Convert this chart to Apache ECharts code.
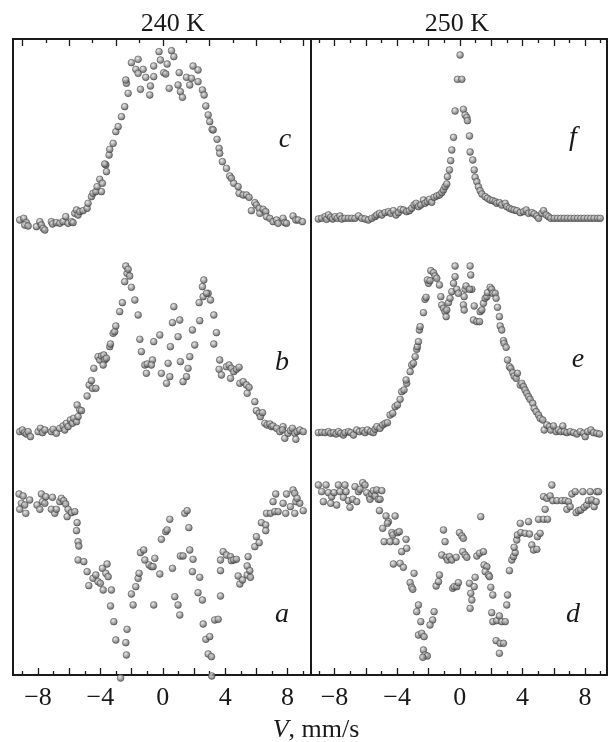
<!DOCTYPE html>
<html><head><meta charset="utf-8">
<script src="https://cdn.jsdelivr.net/npm/echarts@6/dist/echarts.min.js"></script>
<style>html,body{margin:0;padding:0;background:#fff}#chart{width:610px;height:742px}</style>
</head><body><div id="chart"></div>
<script>
// ---- data ----
const panelTitles = ['240 K', '250 K'];
const axisTitleItalic = 'V';
const axisTitleRest = ', mm/s';
const xTickLabels = [-8, -4, 0, 4, 8];
const letters240 = ['c', 'b', 'a'];
const letters250 = ['f', 'e', 'd'];

// 240 K, spectrum c  [velocity mm/s, relative intensity]
const specC = [[-9.17,2],[-8.91,3],[-8.74,0.4],[-8.85,-1],[-8.63,-1.6],[-8.10,-2],[-7.88,1],[-7.78,-1],[-7.67,-3],[-7.56,-4],[-7.14,1],[-7.07,-0.4],[-6.82,0.4],[-6.60,0],[-6.39,1],[-6.22,4],[-6.07,0],[-5.85,1],[-5.75,0.4],[-5.64,6],[-5.53,8],[-5.43,5],[-5.32,7],[-5.11,7.6],[-4.85,9],[-4.79,12],[-4.57,16],[-4.47,18],[-4.29,19],[-4.21,22],[-4.04,26.4],[-3.87,24],[-3.93,19],[-3.65,35],[-3.61,31],[-3.72,35.6],[-3.44,41],[-3.40,44.4],[-3.18,48],[-3.01,55],[-2.86,58],[-2.65,64],[-2.44,70],[-2.22,78],[-2.33,84],[-2.37,86],[-2.01,96.4],[-1.58,98.4],[-1.73,92.4],[-1.58,90],[-1.26,92.4],[-1.43,80.4],[-1.09,87.6],[-0.83,77],[-0.79,82.4],[-0.58,94.4],[-0.58,88],[-0.24,103],[-0.15,98],[0.06,90.4],[0.19,89.6],[0.28,95.6],[0.41,81],[0.56,103.6],[0.71,100],[1.05,90.4],[0.98,83],[1.13,79],[1.26,75.6],[1.52,87.6],[1.73,83],[1.84,87],[1.94,94.4],[2.26,92],[2.26,85],[2.54,80],[2.65,77],[2.76,70.4],[2.91,65],[3.01,61],[3.16,56.4],[3.23,56],[3.48,50.4],[3.61,45],[3.65,42],[3.82,37],[4.08,33],[4.29,28.4],[4.40,27],[4.55,24],[4.83,22],[4.89,18],[5.15,17],[5.36,17],[5.53,15.6],[5.68,7.6],[5.90,12.4],[6.00,11],[6.18,9],[6.22,6],[6.43,8.4],[6.60,7],[6.65,4],[6.86,3],[7.07,1],[7.29,2],[7.39,0],[7.71,3],[7.82,0.4],[7.93,0],[8.35,4.4],[8.53,2],[8.68,2],[8.95,1]];

// 240 K, spectrum b
const specB = [[-9.17,0],[-9.00,1],[-8.85,-0.6],[-8.74,-1.4],[-8.63,0],[-8.48,-3],[-7.99,0],[-7.84,2],[-7.71,-0.6],[-7.56,1],[-7.14,0],[-7.03,1.4],[-6.82,-1],[-6.60,2],[-6.39,3.4],[-6.28,1],[-6.18,5],[-6.07,3],[-5.92,7],[-5.79,5],[-5.71,8],[-5.53,6],[-5.43,9],[-5.49,16],[-5.32,13],[-5.21,12.6],[-4.85,21.4],[-4.72,28],[-4.57,30.6],[-4.51,26],[-4.29,26],[-4.42,38],[-4.15,45],[-4.04,43],[-3.93,45.4],[-3.78,46],[-3.72,43],[-3.61,44],[-3.82,40],[-3.40,51],[-3.35,52.6],[-3.18,59],[-3.08,60],[-3.01,63.4],[-2.76,72],[-2.59,77.4],[-2.44,90],[-2.29,95],[-2.12,93.4],[-2.37,99.4],[-2.22,97.4],[-2.01,86.6],[-1.79,79],[-1.58,70],[-1.47,55.4],[-1.37,48],[-1.15,40],[-1.00,40.6],[-1.05,35],[-0.66,43],[-0.73,40],[-0.58,54],[-0.19,58],[-0.09,35],[0.24,29],[0.34,41],[0.45,33],[0.49,51],[0.62,65.4],[0.71,75],[0.98,57],[1.09,67],[1.13,42],[1.30,30],[1.52,33],[1.62,38],[1.73,45],[1.90,61],[2.05,52],[2.37,66.6],[2.33,77.4],[2.54,87],[2.63,91],[2.59,81],[2.91,83],[3.06,79],[2.80,83],[3.27,70],[3.44,59.4],[3.27,52.6],[3.65,43],[3.61,37.4],[3.76,34],[4.08,39],[4.25,40],[4.40,38],[4.55,36],[4.72,37.4],[4.89,38.6],[4.34,32],[4.94,29],[5.15,30],[5.36,28],[5.53,26.6],[5.41,23],[5.90,18],[6.00,12.6],[6.18,11],[6.26,9],[6.39,11.4],[6.54,5],[6.69,4],[6.86,4.6],[6.97,3],[7.07,3.4],[7.29,2],[7.50,0],[7.71,3],[7.67,1],[7.82,-4],[8.03,-1],[8.18,0.6],[8.31,2],[8.46,-1],[8.53,-4.6],[8.61,0],[8.78,1],[9.00,0]];

// 240 K, spectrum a
const specA = [[-9.21,5.6],[-8.95,4.4],[-9.06,0],[-8.85,-1],[-9.17,-3.6],[-8.78,-6],[-8.53,2],[-8.06,-1],[-7.78,5.6],[-7.88,-3.6],[-7.71,1],[-7.56,0],[-7.50,4],[-7.07,3.6],[-7.14,-3.6],[-6.92,-6],[-6.82,-3.6],[-6.60,1],[-6.50,3],[-6.35,1.6],[-6.22,-0.4],[-6.07,-3.6],[-6.13,-8],[-5.85,-5.6],[-5.64,-5],[-5.49,-11.6],[-5.53,-16.4],[-5.43,-23],[-5.38,-25.6],[-5.43,-34],[-5.06,-35],[-4.85,-41],[-4.74,-49.4],[-4.47,-45],[-4.29,-43],[-4.15,-47],[-4.00,-48],[-3.82,-52],[-3.87,-39],[-3.65,-42],[-3.57,-36.4],[-3.50,-44],[-3.29,-52],[-3.35,-61.6],[-3.14,-71],[-3.01,-82],[-2.70,-104.8],[-2.37,-83.6],[-2.33,-91],[-2.29,-75.6],[-2.01,-54.4],[-1.90,-61],[-1.73,-50],[-1.58,-45],[-1.52,-42],[-1.43,-29.6],[-1.22,-28],[-1.15,-34],[-0.88,-37],[-0.73,-38],[-0.62,-38],[-0.51,-33],[-0.58,-61],[-0.19,-42.4],[-0.09,-21.6],[0.19,-17],[0.28,-16],[0.45,-9.6],[0.62,-39],[0.77,-56],[0.98,-61],[1.09,-67],[1.13,-31.6],[1.30,-31.6],[1.41,-6],[1.56,-4.4],[1.67,-14.6],[1.73,-28],[1.90,-41],[1.94,-33.6],[2.26,-53.6],[2.37,-44.4],[2.54,-58],[2.59,-72.4],[2.76,-81.6],[3.01,-80],[2.91,-90.4],[3.12,-92],[3.14,-103.6],[3.33,-70],[3.55,-69.6],[3.70,-55.6],[3.70,-40.4],[3.70,-34],[3.87,-29],[4.08,-31],[4.34,-32],[4.40,-34.4],[4.55,-34],[4.72,-33.6],[4.83,-43.6],[4.94,-48.4],[5.11,-46],[5.41,-37.6],[5.47,-32],[5.41,-43],[5.58,-40.4],[5.62,-44.4],[5.90,-26],[6.00,-20],[6.18,-23.6],[6.32,-11.6],[6.60,-13],[6.60,-16.4],[6.65,-6],[6.90,-6],[7.07,1],[7.24,5.6],[7.18,-5],[7.39,-5],[7.71,0],[7.88,-6],[7.93,5.6],[8.18,-2],[8.35,8],[8.46,6],[8.53,1],[8.46,-6],[8.78,0],[9.00,-4.4],[8.61,3]];

// 250 K, spectrum f
const specF = [[-9.03,-0.4],[-8.82,0],[-8.60,1],[-8.50,-0.6],[-8.39,2],[-8.24,0.6],[-8.12,-0.4],[-7.97,1],[-7.82,0],[-7.65,1.4],[-7.54,-0.4],[-7.33,0],[-7.11,0],[-6.90,0],[-6.69,0],[-6.47,1.4],[-6.26,0],[-6.05,-0.4],[-5.84,-1],[-5.62,0],[-5.41,1],[-5.30,2],[-5.13,3],[-4.98,2],[-4.77,3.4],[-4.56,4],[-4.41,3],[-4.24,4.6],[-4.07,2],[-3.92,3.4],[-3.77,5.4],[-3.60,5],[-3.39,4],[-3.22,4.6],[-3.07,6],[-2.92,8],[-2.79,9],[-2.64,7],[-2.49,8],[-2.32,11],[-2.22,9],[-2.07,10],[-1.94,11.4],[-1.79,9.6],[-1.64,12.6],[-1.47,13.4],[-1.30,14],[-1.15,15.4],[-1.04,17],[-0.94,19],[-0.83,20.6],[-0.79,25],[-0.66,29],[-0.58,34.6],[-0.51,41],[-0.40,48.6],[-0.30,64.4],[-0.15,83.4],[0.02,98],[0.13,83.4],[0.23,65.4],[0.34,62],[0.45,60.6],[0.49,58.6],[0.62,49.4],[0.66,39.8],[0.83,35],[0.92,29],[0.98,24.6],[1.09,22],[1.19,19],[1.30,16.6],[1.41,14.6],[1.62,13],[1.77,12],[1.94,11],[2.11,10.6],[2.26,10],[2.36,9],[2.53,9.4],[2.68,8],[2.90,9],[3.00,7],[3.17,6],[3.32,5.4],[3.47,5],[3.64,4.6],[3.86,3.4],[4.07,4],[4.24,5],[4.39,3],[4.60,3.4],[4.75,2.6],[4.92,1.4],[5.03,0],[5.24,3],[5.35,4.6],[5.52,2],[5.67,1],[5.81,0],[6.03,0],[6.24,0],[6.45,0],[6.67,0],[6.88,0],[7.09,0],[7.31,0],[7.52,0],[7.73,0],[7.94,0],[8.16,0],[8.37,0],[8.58,0],[8.80,0],[8.97,0]];

// 250 K, spectrum e
const specE = [[-9.03,0],[-8.82,0.2],[-8.60,0],[-8.39,0.6],[-8.24,-0.4],[-8.07,0],[-7.90,-0.8],[-7.75,0.6],[-7.60,-0.4],[-7.43,-1.4],[-7.33,0],[-7.11,0.6],[-6.96,0],[-6.79,-1.4],[-6.58,1.6],[-6.41,0.6],[-6.20,1.2],[-6.05,0],[-5.90,1.6],[-5.69,0.6],[-5.52,0],[-5.41,2],[-5.30,3.6],[-5.09,2.6],[-4.92,4.6],[-4.77,5.6],[-4.62,6],[-4.45,10.6],[-4.28,11.6],[-4.13,15.6],[-3.98,16.6],[-3.81,20],[-3.71,24.6],[-3.56,25.6],[-3.39,29.6],[-3.43,31.6],[-3.17,36.6],[-3.07,40.6],[-2.96,41.6],[-2.85,45.6],[-2.75,50],[-2.71,51.6],[-2.64,54.6],[-2.58,61.6],[-2.53,63.6],[-2.32,72],[-2.22,80],[-2.15,81.2],[-2.00,89.6],[-2.07,91.6],[-1.90,91.2],[-1.85,97.2],[-1.68,96],[-1.58,94],[-1.47,92.6],[-1.30,88.6],[-1.21,81.6],[-1.15,76.6],[-1.04,74.6],[-0.94,72.6],[-0.87,69.6],[-0.83,73.6],[-0.72,78],[-0.62,80.6],[-0.51,84.6],[-0.40,89.6],[-0.30,93.6],[-0.19,86],[-0.09,83.6],[-0.30,100],[0.28,81.6],[0.23,76.6],[0.28,73.6],[0.34,86],[0.40,88],[0.66,100],[0.70,94.6],[0.77,86],[0.62,86],[0.87,67.6],[1.09,66.6],[1.26,66.6],[0.92,76],[1.30,72.6],[1.41,73.6],[1.51,77.6],[1.62,80.6],[1.73,81.6],[1.77,84],[1.94,87.2],[2.04,86],[2.11,83.6],[2.26,83.6],[2.32,80.6],[2.41,75.2],[2.53,69.6],[2.58,64],[2.68,61.6],[2.79,55.2],[2.83,53.6],[2.96,51.2],[3.05,43.6],[3.17,39.6],[3.26,38.6],[3.39,36],[3.47,34],[3.60,32.6],[3.68,35.6],[3.86,28.6],[3.96,29.6],[4.07,27.6],[4.17,25.6],[4.28,23.6],[4.39,21.6],[4.49,20],[4.66,17.6],[4.75,14.6],[4.88,12.6],[5.03,10.6],[5.13,8.6],[5.30,7.6],[5.39,1.6],[5.56,4.6],[5.73,3.6],[5.81,1.6],[5.98,4],[6.16,0.6],[6.30,1.6],[6.45,0.6],[6.58,4],[6.67,0.6],[6.84,0],[7.05,0.6],[7.26,0],[7.48,-0.8],[7.69,0.6],[7.90,-0.4],[8.01,-2.4],[8.16,0.6],[8.37,1.6],[8.54,0],[8.75,-0.4],[8.92,-0.8]];

// 250 K, spectrum d
const specD = [[-9.03,7],[-8.82,3],[-8.71,-3],[-8.54,7],[-8.39,2.4],[-8.24,-4],[-8.18,0],[-8.03,2.4],[-7.86,-5],[-7.75,7],[-7.65,3],[-7.43,-0.4],[-7.33,7],[-7.26,3],[-7.11,-2.4],[-7.01,-6.4],[-6.84,-1.6],[-6.69,6],[-6.58,-3],[-6.47,3],[-6.37,4.4],[-6.20,8.4],[-6.05,7],[-5.94,2.4],[-5.77,0],[-5.73,-1.6],[-5.62,1.6],[-5.52,3.6],[-5.41,0.4],[-5.30,4],[-5.20,-1.6],[-5.09,-1.6],[-4.98,3.6],[-5.13,-8.4],[-4.71,-11.6],[-4.56,-15],[-4.62,-16],[-4.34,-21.6],[-4.13,-11.6],[-4.92,-19],[-4.83,-27],[-4.45,-27],[-4.28,-23],[-3.98,-21.6],[-4.07,-27],[-3.86,-21],[-3.71,-33],[-3.43,-25.6],[-3.39,-31],[-4.24,-40.4],[-3.81,-40],[-3.60,-42.4],[-3.17,-51.6],[-3.07,-54.4],[-3.00,-55.6],[-2.92,-46],[-2.64,-65],[-2.75,-69],[-2.49,-75],[-2.64,-83],[-2.43,-82],[-2.28,-84],[-1.64,-69],[-1.73,-74],[-1.90,-77],[-2.32,-92],[-2.22,-95],[-2.07,-95.6],[-2.36,-96.4],[-1.51,-53.6],[-1.36,-51],[-1.30,-47],[-1.15,-35],[-1.04,-20],[-0.94,-27],[-0.87,-36.4],[-0.79,-38],[-0.66,-36],[-0.51,-38],[-0.45,-55],[-0.36,-54],[-0.19,-54],[-0.09,-51.6],[-0.23,-36.4],[-0.02,-21.6],[0.13,-23.6],[0.23,-25],[0.19,-33],[0.34,-35],[0.45,-36.4],[0.62,-52],[0.70,-58],[0.77,-62],[0.66,-67],[0.98,-48.4],[0.92,-54],[1.09,-35.6],[1.26,-34],[1.34,-12],[1.51,-33],[1.55,-41],[1.73,-42],[1.62,-45],[1.83,-47],[1.90,-48],[1.98,-54.4],[2.11,-59],[2.04,-69.6],[2.11,-75],[2.36,-74.4],[2.53,-71.6],[2.68,-75],[2.90,-75],[2.32,-86.4],[2.58,-88],[2.79,-88],[2.53,-94],[3.00,-65],[3.05,-59],[3.17,-44.4],[3.32,-38],[3.43,-36],[3.54,-33.6],[3.47,-30.4],[3.64,-26],[3.68,-23],[3.86,-16],[3.90,-21.6],[4.17,-22],[4.39,-15],[4.45,-22.4],[4.60,-29],[4.71,-32],[4.92,-31.6],[4.96,-24],[5.13,-22],[5.03,-13.6],[5.35,-13.6],[5.60,-13.6],[5.45,-7.6],[5.35,0],[5.56,-1],[5.77,0.4],[5.88,7],[5.94,-2.4],[6.20,-2.4],[6.52,-2.4],[6.73,-2.4],[6.94,-3],[6.84,-7.6],[7.05,-6],[7.16,1.6],[7.37,3],[7.43,-9.6],[7.58,-8.4],[7.73,-8],[7.86,3],[7.94,-6.4],[8.11,-5],[8.22,-2.4],[8.33,3],[8.43,-2],[8.58,-6],[8.75,3],[8.71,-3],[8.86,3]];

// ---- layout / style ----
const SERIF = '"Liberation Serif", "DejaVu Serif", serif';
const panels = [
  {left: 13, width: 298, xmin: -9.6, xmax: 9.5, topLong: [-9,-6,-3,0,3,6,9], topShort: [-7.5,-4.5,-1.5,1.5,4.5,7.5]},
  {left: 311, width: 296, xmin: -9.5, xmax: 9.4, topLong: [-8,-6,-4,-2,0,2,4,6,8], topShort: [-9,-7,-5,-3,-1,1,3,5,7,9]}
];
const botLong = [-8,-6,-4,-2,0,2,4,6,8];
const botShort = [-9,-7,-5,-3,-1,1,3,5,7,9];
const rows = [{top: 39, height: 201}, {top: 240, height: 210}, {top: 450, height: 225}];
const frameTop = 39, frameHeight = 636;
const spectra = [
  {panel: 0, row: 0, data: specC, ymin: -10, ymax: 110.6},
  {panel: 0, row: 1, data: specB, ymin: -11, ymax: 115},
  {panel: 0, row: 2, data: specA, ymin: -103, ymax: 32},
  {panel: 1, row: 0, data: specF, ymin: -13, ymax: 107.6},
  {panel: 1, row: 1, data: specE, ymin: -10.4, ymax: 115.6},
  {panel: 1, row: 2, data: specD, ymin: -107, ymax: 28}
];

const ball = {
  color: {type: 'radial', x: 0.4, y: 0.35, r: 0.7, colorStops: [
    {offset: 0, color: '#e6e6e6'}, {offset: 0.45, color: '#999999'}, {offset: 1, color: '#3c3c3c'}]},
  borderColor: '#3a3a3a', borderWidth: 0.6
};

const grid = [], xAxis = [], yAxis = [], series = [];
const hidden = {show: false};
spectra.forEach((s, i) => {
  const p = panels[s.panel], r = rows[s.row];
  grid.push({left: p.left, width: p.width, top: r.top, height: r.height});
  xAxis.push({type: 'value', gridIndex: i, min: p.xmin, max: p.xmax, show: false, splitLine: hidden});
  yAxis.push({type: 'value', gridIndex: i, min: s.ymin, max: s.ymax, show: false, splitLine: hidden});
  series.push({type: 'scatter', xAxisIndex: i, yAxisIndex: i, data: s.data, symbolSize: 6.8,
    itemStyle: ball, clip: false, silent: true, animation: false});
});

const lineStyle = {color: '#1a1a1a', width: 2};
const fmt = v => (v < 0 ? '\u2212' + Math.abs(v) : String(v));
panels.forEach((p, pi) => {
  ['long', 'short'].forEach(kind => {
    const gi = grid.length;
    grid.push({left: p.left, width: p.width, top: frameTop, height: frameHeight});
    const isLong = kind === 'long';
    const len = isLong ? 7 : 4;
    xAxis.push({type: 'value', gridIndex: gi, position: 'bottom', min: p.xmin, max: p.xmax,
      axisLine: {show: true, onZero: false, lineStyle},
      axisTick: {show: true, inside: true, length: len, customValues: isLong ? botLong : botShort, lineStyle: {color: '#1a1a1a', width: 1.3}},
      axisLabel: isLong ? {show: true, customValues: xTickLabels, formatter: fmt, fontFamily: SERIF, fontSize: 26, color: '#1a1a1a', margin: 10} : {show: false},
      splitLine: hidden});
    xAxis.push({type: 'value', gridIndex: gi, position: 'top', min: p.xmin, max: p.xmax,
      axisLine: {show: true, onZero: false, lineStyle},
      axisTick: {show: true, inside: true, length: len, customValues: isLong ? p.topLong : p.topShort, lineStyle: {color: '#1a1a1a', width: 1.3}},
      axisLabel: {show: false}, splitLine: hidden});
    yAxis.push({type: 'value', gridIndex: gi, position: 'left', min: 0, max: 1,
      axisLine: {show: isLong, onZero: false, lineStyle}, axisTick: hidden, axisLabel: hidden, splitLine: hidden});
    yAxis.push({type: 'value', gridIndex: gi, position: 'right', min: 0, max: 1,
      axisLine: {show: isLong, onZero: false, lineStyle}, axisTick: hidden, axisLabel: hidden, splitLine: hidden});
  });
});

const letterPos = [[285, 140], [282, 363], [282, 615], [573, 138], [578, 360], [573, 615]];
const allLetters = letters240.concat(letters250);
const graphic = allLetters.map((t, i) => ({type: 'text', x: letterPos[i][0], y: letterPos[i][1], silent: true,
  style: {text: t, font: 'italic 28px ' + SERIF, fill: '#1a1a1a', align: 'center', verticalAlign: 'middle'}}));

const titleStyle = {fontFamily: SERIF, fontSize: 26, fontWeight: 'normal', color: '#1a1a1a'};
const chart = echarts.init(document.getElementById('chart'), null, {renderer: 'canvas'});
chart.setOption({
  animation: false,
  backgroundColor: '#fff',
  title: [
    {text: panelTitles[0], left: 168, top: 6, textAlign: 'center', textStyle: titleStyle},
    {text: panelTitles[1], left: 452, top: 6, textAlign: 'center', textStyle: titleStyle},
    {text: '{i|' + axisTitleItalic + '}{n|' + axisTitleRest + '}', left: 311, top: 712, textAlign: 'center',
      textStyle: {fontWeight: 'normal', rich: {
        i: {fontFamily: SERIF, fontStyle: 'italic', fontWeight: 'normal', fontSize: 26, color: '#1a1a1a'},
        n: {fontFamily: SERIF, fontWeight: 'normal', fontSize: 26, color: '#1a1a1a'}}}}
  ],
  grid, xAxis, yAxis, series, graphic
});
</script>
</body></html>
